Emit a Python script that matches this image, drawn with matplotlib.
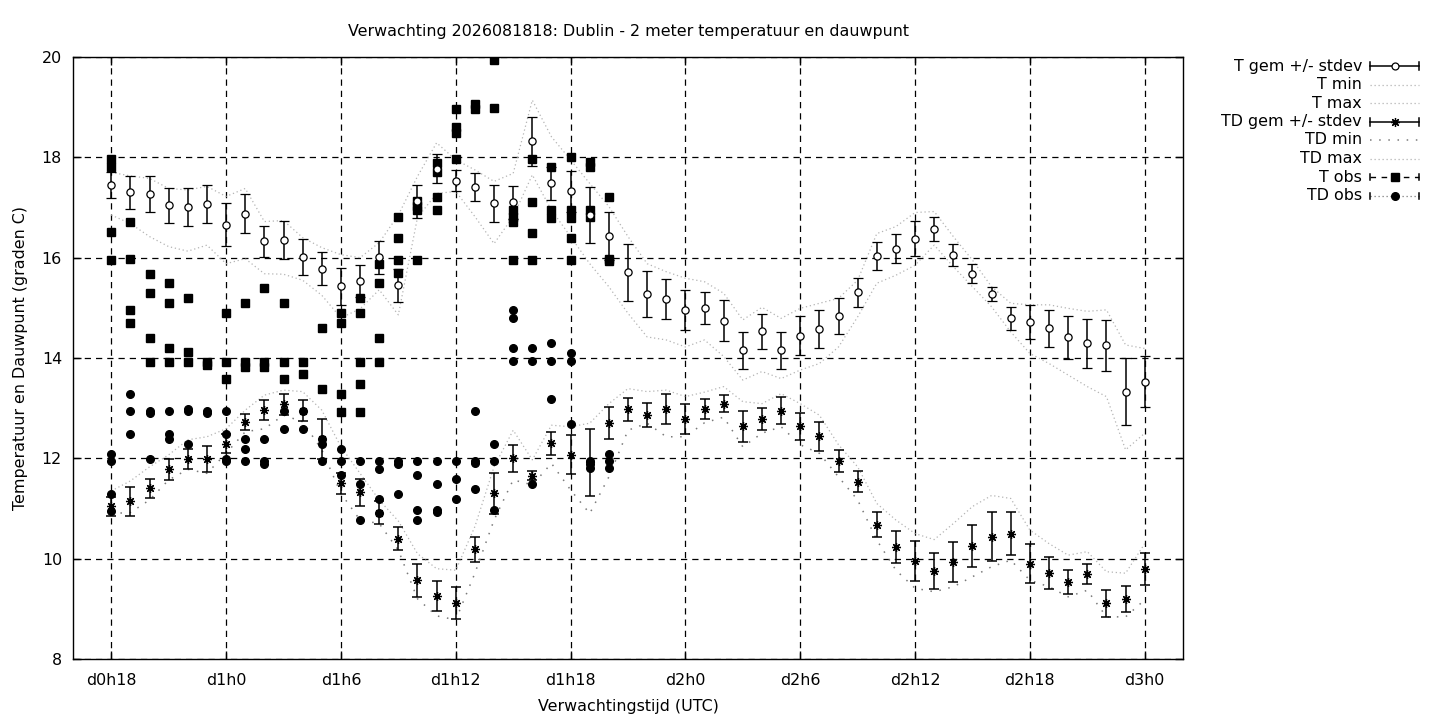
import numpy as np
import matplotlib
matplotlib.use("Agg")
import matplotlib.pyplot as plt
from matplotlib.lines import Line2D

#forecast hours since d0h0, one ensemble summary per hour
hours = list(range(18, 73))

t_mean = [17.45, 17.30, 17.27, 17.04, 17.01, 17.07, 16.66, 16.88, 16.33, 16.35,
          16.02, 15.78, 15.43, 15.53, 16.01, 15.45, 17.12, 17.77, 17.53, 17.40,
          17.08, 17.10, 18.32, 17.48, 17.32, 16.85, 16.43, 15.71, 15.27, 15.18,
          14.96, 15.00, 14.74, 14.15, 14.53, 14.15, 14.44, 14.58, 14.83, 15.31,
          16.03, 16.18, 16.38, 16.58, 16.06, 15.68, 15.27, 14.79, 14.71, 14.59,
          14.41, 14.29, 14.25, 13.33, 13.53]
t_std = [0.26, 0.32, 0.35, 0.34, 0.37, 0.37, 0.42, 0.39, 0.31, 0.38,
         0.36, 0.33, 0.37, 0.32, 0.33, 0.33, 0.32, 0.29, 0.21, 0.28,
         0.36, 0.32, 0.49, 0.33, 0.40, 0.56, 0.48, 0.57, 0.46, 0.40,
         0.40, 0.32, 0.41, 0.37, 0.35, 0.36, 0.39, 0.38, 0.36, 0.29,
         0.28, 0.29, 0.35, 0.24, 0.22, 0.19, 0.14, 0.23, 0.34, 0.37,
         0.43, 0.48, 0.51, 0.67, 0.50]
t_min = [16.85, 16.68, 16.42, 16.22, 16.13, 16.25, 15.88, 15.98, 15.68, 15.67,
         15.55, 15.25, 14.80, 14.98, 15.36, 14.86, 16.80, 17.28, 17.32, 16.82,
         16.28, 16.82, 17.65, 16.95, 16.42, 15.88, 15.42, 14.89, 14.42, 14.36,
         14.22, 14.36, 14.03, 13.56, 13.73, 13.59, 13.76, 13.89, 14.22, 14.82,
         15.49, 15.65, 15.85, 16.25, 15.82, 15.42, 15.02, 14.52, 14.09, 13.89,
         13.66, 13.43, 13.23, 12.17, 12.50]
t_max = [17.70, 17.63, 17.58, 17.38, 17.35, 17.42, 17.22, 17.38, 16.72, 16.74,
         16.40, 16.20, 16.06, 16.00, 16.30, 16.85, 17.62, 18.29, 17.95, 17.75,
         17.52, 17.68, 19.14, 18.41, 17.95, 17.48, 17.02, 16.42, 15.88, 15.72,
         15.59, 15.52, 15.29, 14.76, 15.01, 14.79, 14.99, 15.09, 15.19, 15.55,
         16.48, 16.62, 16.90, 16.92, 16.42, 15.95, 15.42, 15.09, 15.06, 15.06,
         14.99, 14.93, 14.96, 14.26, 14.19]

td_mean = [11.04, 11.14, 11.40, 11.78, 11.99, 11.99, 12.29, 12.72, 12.97, 13.08,
           12.95, 12.39, 11.50, 11.32, 10.92, 10.40, 9.57, 9.26, 9.11, 10.19,
           11.30, 12.00, 11.65, 12.30, 12.07, 11.92, 12.70, 12.98, 12.86, 12.99,
           12.79, 12.99, 13.09, 12.64, 12.79, 12.95, 12.64, 12.44, 11.94, 11.53,
           10.68, 10.23, 9.96, 9.76, 9.94, 10.25, 10.44, 10.50, 9.90, 9.72,
           9.54, 9.70, 9.11, 9.20, 9.80]
td_std = [0.19, 0.29, 0.19, 0.21, 0.20, 0.26, 0.19, 0.16, 0.20, 0.21,
          0.21, 0.40, 0.21, 0.27, 0.23, 0.23, 0.33, 0.30, 0.32, 0.25,
          0.40, 0.27, 0.09, 0.23, 0.39, 0.67, 0.32, 0.23, 0.24, 0.30,
          0.30, 0.20, 0.17, 0.31, 0.22, 0.27, 0.27, 0.29, 0.22, 0.21,
          0.25, 0.32, 0.40, 0.36, 0.40, 0.42, 0.49, 0.43, 0.39, 0.32,
          0.24, 0.20, 0.27, 0.26, 0.32]
td_min = [10.90, 10.92, 11.17, 11.57, 11.78, 11.70, 12.10, 12.53, 12.59, 12.86,
          12.73, 12.17, 11.30, 10.77, 10.70, 10.17, 9.20, 8.86, 8.78, 9.71,
          10.77, 11.57, 11.47, 11.90, 11.37, 10.90, 11.63, 12.56, 12.70, 12.43,
          12.43, 12.71, 12.82, 12.23, 12.50, 12.63, 12.27, 12.10, 11.63, 11.17,
          10.37, 9.77, 9.41, 9.34, 9.44, 9.64, 9.84, 9.97, 9.57, 9.44,
          9.24, 9.37, 8.84, 8.84, 9.18]
td_max = [11.35, 11.55, 11.83, 12.07, 12.37, 12.43, 12.59, 12.96, 13.26, 13.36,
          13.33, 12.96, 12.23, 11.70, 11.17, 10.75, 10.10, 9.80, 9.77, 10.64,
          11.83, 12.56, 11.97, 12.66, 12.63, 12.70, 13.09, 13.39, 13.33, 13.36,
          13.23, 13.32, 13.43, 13.13, 13.09, 13.29, 13.09, 12.86, 12.27, 11.83,
          11.10, 10.77, 10.50, 10.38, 10.70, 11.04, 11.26, 11.20, 10.57, 10.30,
          10.07, 10.14, 9.74, 9.71, 10.30]

#observations, several values per hour (hours 18..44)
obs_hours = list(range(18, 45))
t_obs = [
    [17.97, 17.80, 16.51, 15.96], [16.71, 15.97, 14.96, 14.69],
    [15.68, 15.29, 14.39, 13.93], [15.49, 15.09, 14.19, 13.93],
    [15.19, 14.11, 13.93], [13.93, 13.87], [14.89, 13.93, 13.59],
    [15.09, 13.93, 13.83], [15.39, 13.93, 13.83], [15.09, 13.93, 13.59],
    [13.93, 13.69], [14.59, 13.39], [14.89, 14.69, 13.29, 12.93],
    [15.19, 14.89, 13.93, 13.49, 12.93], [15.88, 15.49, 14.39, 13.93],
    [16.82, 16.40, 15.96, 15.70], [17.12, 17.02, 16.95, 15.96],
    [17.89, 17.71, 17.20, 16.95], [18.96, 18.61, 18.48, 17.96],
    [19.07, 18.96], [19.94, 18.98], [16.95, 16.82, 16.72, 15.96],
    [17.96, 17.10, 16.50, 15.96], [17.80, 16.95, 16.80],
    [18.00, 16.95, 16.80, 16.40, 15.96], [17.91, 17.80, 16.95, 16.82],
    [17.20, 15.98, 15.94],
]
td_obs = [
    [12.08, 11.95, 11.29, 10.95], [13.29, 12.94, 12.48], [12.94, 12.90, 11.99],
    [12.94, 12.48, 12.38], [12.99, 12.94, 12.28], [12.94, 12.90],
    [12.94, 12.48, 11.99, 11.95], [12.38, 12.18, 11.95], [12.38, 11.95, 11.88],
    [12.94, 12.58], [12.94, 12.58], [12.38, 12.28, 11.95],
    [12.18, 11.95, 11.67], [11.95, 11.48, 10.78], [11.95, 11.78, 11.18, 10.92],
    [11.95, 11.88, 11.29], [11.95, 11.67, 10.98, 10.78],
    [11.95, 11.48, 10.98, 10.93], [11.95, 11.58, 11.18],
    [12.94, 11.95, 11.90, 11.38], [12.28, 11.95, 10.98],
    [14.96, 14.79, 14.20, 13.94], [14.20, 13.94, 11.48],
    [14.29, 13.94, 13.19], [14.09, 13.94, 12.68], [11.95, 11.88, 11.80],
    [12.08, 11.94, 11.80],
]

tick_hours = [18, 24, 30, 36, 42, 48, 54, 60, 66, 72]
tick_labels = ["d0h18", "d1h0", "d1h6", "d1h12", "d1h18",
               "d2h0", "d2h6", "d2h12", "d2h18", "d3h0"]

legend_labels = ["T gem +/- stdev", "T min", "T max", "TD gem +/- stdev",
                 "TD min", "TD max", "T obs", "TD obs"]

FS = 11.4
plt.rcParams["font.family"] = ["DejaVu Sans"]
plt.rcParams["font.size"] = FS

W, H = 1440, 720
fig = plt.figure(figsize=(W / 100, H / 100), dpi=100)
ax = fig.add_axes([73 / W, 1 - 659 / H, (1183 - 73) / W, (659 - 57) / H])

light = "#b4b4b4"
dark = "#7a7a7a"
fine = (0, (1, 2.2))
sparse = (0, (1, 5))
star = (8, 2, 0)

ax.plot(hours, t_min, color=light, ls=fine, lw=0.9)
ax.plot(hours, t_max, color=light, ls=fine, lw=0.9)
ax.plot(hours, td_min, color=dark, ls=sparse, lw=1.1)
ax.plot(hours, td_max, color=light, ls=fine, lw=0.9)

tx = [h for h, vals in zip(obs_hours, t_obs) for v in vals]
ty = [v for vals in t_obs for v in vals]
dx = [h for h, vals in zip(obs_hours, td_obs) for v in vals]
dy = [v for vals in td_obs for v in vals]
ax.plot(tx, ty, ls="none", marker="s", ms=5.2, color="black")
ax.plot(dx, dy, ls="none", marker="o", ms=5.5, color="black")

ax.errorbar(hours, t_mean, yerr=t_std, fmt="o", ms=5.2, mfc="white",
            mec="black", mew=0.9, ecolor="black", elinewidth=1.1,
            capsize=3.6, capthick=1.1, zorder=4)
ax.errorbar(hours, td_mean, yerr=td_std, fmt="none", ecolor="black",
            elinewidth=1.1, capsize=3.6, capthick=1.1, zorder=4)
ax.plot(hours, td_mean, ls="none", marker=star, ms=6.5, mec="black",
        mew=0.9, zorder=5)

ax.set_xlim(16, 74)
ax.set_ylim(8, 20)
ax.set_xticks(tick_hours)
ax.set_xticklabels(tick_labels)
ax.set_yticks(range(8, 21, 2))
ax.tick_params(direction="in", length=6, width=1, top=True, right=True)
ax.tick_params(axis="x", pad=10)
ax.tick_params(axis="y", pad=8)
ax.grid(True, color="black", ls=(0, (5, 4)), lw=0.9)
for s in ax.spines.values():
    s.set_linewidth(1)

ax.set_xlabel("Verwachtingstijd (UTC)", labelpad=8)
ax.set_ylabel("Temperatuur en Dauwpunt (graden C)", labelpad=10)
ax.set_title("Verwachting 2026081818: Dublin - 2 meter temperatuur en dauwpunt",
             fontsize=FS, pad=15)

#gnuplot style key on the right, built by hand in figure pixels
def fx(px):
    return px / W

def fy(py):
    return 1 - py / H

x0, x1 = 1370, 1419
xc = (x0 + x1) / 2
row_y = [66, 84.5, 103, 121.5, 140, 158.5, 177, 196]
for lab, py in zip(legend_labels, row_y):
    fig.text(fx(1362), fy(py), lab, ha="right", va="center", fontsize=FS)

def key_line(py, color, ls, lw):
    fig.add_artist(Line2D([fx(x0), fx(x1)], [fy(py), fy(py)],
                          transform=fig.transFigure, color=color, ls=ls, lw=lw))

def key_caps(py, half):
    for px in (x0, x1):
        fig.add_artist(Line2D([fx(px), fx(px)], [fy(py - half), fy(py + half)],
                              transform=fig.transFigure, color="black", lw=1.1))

def key_marker(py, **kw):
    fig.add_artist(Line2D([fx(xc)], [fy(py)], transform=fig.transFigure,
                          ls="none", **kw))

key_line(row_y[0], "black", "-", 1.1)
key_caps(row_y[0], 4)
key_marker(row_y[0], marker="o", ms=5, mfc="white", mec="black", mew=0.9)
key_line(row_y[1], light, fine, 0.9)
key_line(row_y[2], light, fine, 0.9)
key_line(row_y[3], "black", "-", 1.1)
key_caps(row_y[3], 4)
key_marker(row_y[3], marker=star, ms=6.5, mec="black", mew=0.9)
key_line(row_y[4], dark, sparse, 1.1)
key_line(row_y[5], light, fine, 0.9)
key_line(row_y[6], "black", (0, (4, 4)), 1.0)
key_caps(row_y[6], 3)
key_marker(row_y[6], marker="s", ms=5.2, color="black")
key_line(row_y[7], dark, fine, 0.9)
key_caps(row_y[7], 3)
key_marker(row_y[7], marker="o", ms=5.5, color="black")

fig.savefig("out.png", dpi=100)
